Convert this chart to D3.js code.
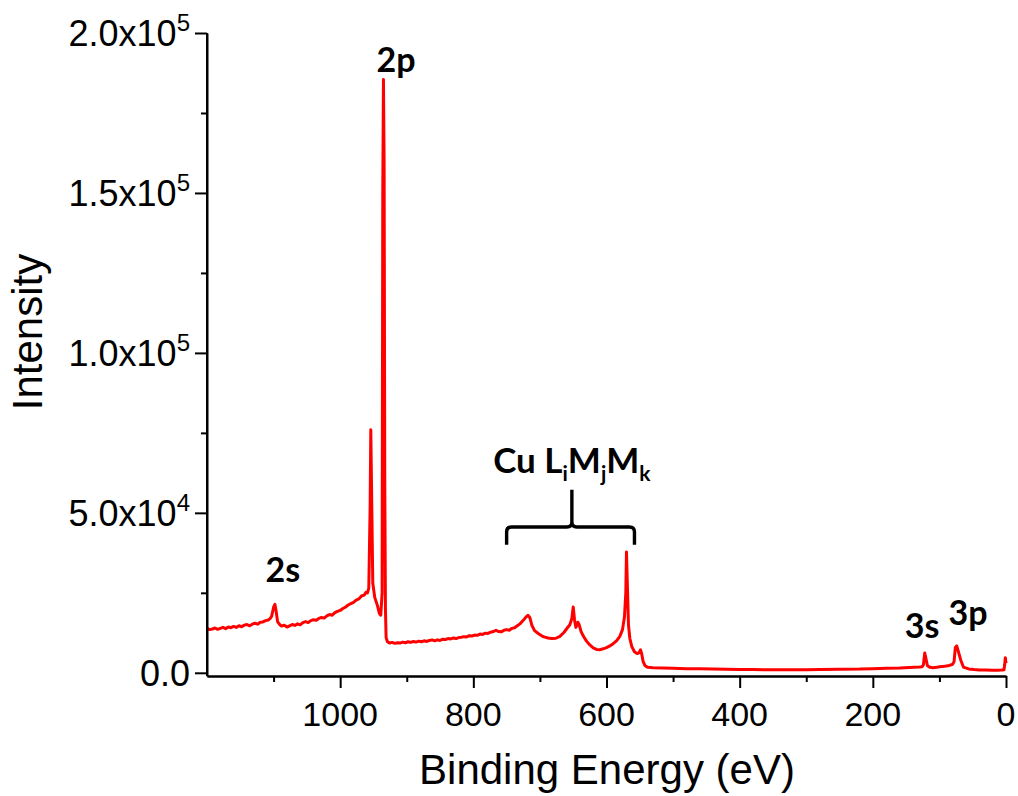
<!DOCTYPE html>
<html><head><meta charset="utf-8">
<script src="https://cdn.jsdelivr.net/npm/d3@7"></script>
<style>
body{margin:0;background:#fff;}
svg{display:block;}
</style></head>
<body>
<svg id="chart" width="1018" height="796"></svg>
<script>
// Binding energy (eV) and intensity (counts)
const energy = [1200,1196,1192,1188,1184,1180,1176,1172,1168,1164,1160,1156,1152,1148,1144,1140,1136,1132,1128,1124,1120,1116,1112,1108,1105,1103,1100,1098,1096,1094,1091,1088,1084,1080,1076,1072,1068,1064,1060,1056,1052,1048,1044,1040,1036,1032,1028,1024,1020,1016,1012,1008,1004,1000,996,992,988,984,980,976,972,968,964,961,959,957,955,954,953,951,948,944,941,939,937,936,935,934,933,932,931,929,926,922,918,914,910,906,902,898,894,890,886,882,878,874,870,866,862,858,854,850,846,842,838,834,830,826,822,818,814,810,806,802,798,794,790,786,782,778,774,770,766,762,758,754,750,746,742,738,734,730,725,721,718,715,712,708,702,695,688,682,676,670,664,659,655,652,650,648,646,643,641,638,634,630,625,620,615,610,605,600,595,590,585,580,576,573,571,570,569,567,565,562,558,554,551,549,547,545,542,538,530,515,500,480,460,440,420,400,380,350,320,300,280,250,220,200,180,160,145,130,126,124,123,122,120,118,114,110,104,100,95,90,85,82,80,78,77,76,74,72,68,64,56,48,40,30,20,12,7,5,3,2,1,0];
const intensity = [13900,13500,13700,14000,13600,13900,14200,13800,14300,14100,14500,14200,14700,14400,14900,15100,14700,15200,15500,15200,15800,15900,16300,16500,17000,17600,20500,21400,19000,16000,15100,14600,14900,14300,14700,15100,14800,15300,15000,15700,16000,15700,16300,16600,16400,17000,17300,17100,17800,18200,18000,18800,19200,19500,20100,20500,21200,21600,22000,22700,23100,24000,24300,25200,25000,26500,52000,76000,60000,28000,23500,21000,18500,18000,25000,150000,185500,160000,60000,20000,11000,9700,9300,9500,9200,9400,9300,9600,9400,9700,9500,9800,9600,9900,9700,10000,9800,10100,10300,10000,10300,10100,10500,10400,10700,10600,10900,10700,11000,11100,11300,11200,11600,11500,11800,11700,12100,12000,12400,12300,12700,12900,13300,12900,12800,13300,13500,13300,13900,14100,14700,15300,16400,17400,18000,17200,14800,13200,12200,11300,10900,10700,10800,11400,12600,14000,15000,17000,20600,16500,14200,15800,15000,12800,11200,9900,8700,7800,7300,7200,7500,7900,8400,9100,10000,11400,13500,17500,25000,37800,30000,15000,10800,8200,6600,6000,6300,7200,5800,3500,2200,1700,1600,1500,1400,1300,1250,1200,1100,1000,1000,950,950,980,1000,1100,1150,1300,1400,1500,1650,1800,1900,2500,4500,6200,4200,2200,1700,1600,1700,1900,2000,2100,2300,2500,2700,3500,5800,8000,8400,7000,4000,1800,1200,1000,900,850,800,800,850,900,950,2500,4700,3000,1500,900];

const yMajor = [0, 50000, 100000, 150000, 200000];
const yMinor = [25000, 75000, 125000, 175000];
const yTickLabels = [["0.0",""],["5.0x10","4"],["1.0x10","5"],["1.5x10","5"],["2.0x10","5"]];
const xMajor = [1000, 800, 600, 400, 200, 0];
const xMinor = [1100, 900, 700, 500, 300, 100];
const xTickLabels = ["1000","800","600","400","200","0"];

const peakLabels = [
  {text:"2p", be:916, y:187800},
  {text:"2s", be:1086, y:28400},
  {text:"3s", be:126, y:10900},
  {text:"3p", be:57, y:15000}
];
const bracketBE = {left:750, mid:652, right:558};
const bracketI = {line:45600, foot:40000, tip:57200, text:62500};

const svg = d3.select("#chart");
const x = d3.scaleLinear().domain([1200, 0]).range([207, 1006]);
const y = d3.scaleLinear().domain([-1000, 200000]).range([676, 33]);

// spectrum
const line = d3.line().x((d,i)=>x(energy[i])).y((d,i)=>y(intensity[i]));
svg.append("path").datum(energy)
  .attr("d", line)
  .attr("fill","none").attr("stroke","#ff0000").attr("stroke-width",3)
  .attr("stroke-linejoin","round");

// axes
const axStyle = g => { g.selectAll("path,line").attr("stroke","#000").attr("stroke-width",2); g.selectAll("text").remove(); };
svg.append("g").attr("transform","translate(207,0)")
  .call(d3.axisLeft(y).tickValues(yMinor).tickSize(6).tickSizeOuter(0).tickFormat(""))
  .call(axStyle);
svg.append("g").attr("transform","translate(207,0)")
  .call(d3.axisLeft(y).tickValues(yMajor).tickSize(12).tickSizeOuter(0).tickFormat(""))
  .call(axStyle).select(".domain").attr("d", `M0,${y(200000)}V676`);
svg.append("g").attr("transform","translate(0,676)")
  .call(d3.axisBottom(x).tickValues(xMinor).tickSize(6).tickSizeOuter(0).tickFormat(""))
  .call(axStyle);
svg.append("g").attr("transform","translate(0,676)")
  .call(d3.axisBottom(x).tickValues(xMajor).tickSize(12).tickSizeOuter(0).tickFormat(""))
  .call(axStyle);

// y tick labels
const yl = svg.append("g").attr("font-family","Liberation Sans, Arial, sans-serif").attr("fill","#000");
yMajor.forEach((v,i)=>{
  const t = yl.append("text").attr("x",190).attr("y",y(v)+13).attr("text-anchor","end").attr("font-size",36);
  t.append("tspan").text(yTickLabels[i][0]);
  if (yTickLabels[i][1]) t.append("tspan").attr("font-size",24).attr("dy",-15).text(yTickLabels[i][1]);
});
// x tick labels
xMajor.forEach((v,i)=>{
  yl.append("text").attr("x",x(v)).attr("y",726).attr("text-anchor","middle").attr("font-size",34).text(xTickLabels[i]);
});
// axis titles
yl.append("text").attr("transform","translate(42,332) rotate(-90)").attr("text-anchor","middle").attr("font-size",42).text("Intensity");
yl.append("text").attr("x",607).attr("y",784).attr("text-anchor","middle").attr("font-size",42).text("Binding Energy (eV)");

// peak labels
const ann = svg.append("g").attr("font-family","Lato, Open Sans, sans-serif").attr("font-weight",700).attr("fill","#000");
peakLabels.forEach(p=>{
  ann.append("text").attr("x",x(p.be)).attr("y",y(p.y)).attr("text-anchor","middle").attr("font-size",34).text(p.text);
});
const cu = ann.append("text").attr("x",x(bracketBE.mid)).attr("y",y(bracketI.text)).attr("text-anchor","middle").attr("font-size",35);
cu.append("tspan").text("Cu L");
cu.append("tspan").attr("font-size",21).attr("dy",8).text("i");
cu.append("tspan").attr("dy",-8).text("M");
cu.append("tspan").attr("font-size",21).attr("dy",8).text("j");
cu.append("tspan").attr("dy",-8).text("M");
cu.append("tspan").attr("font-size",21).attr("dy",8).text("k");

// curly bracket
const xl = x(bracketBE.left), xm = x(bracketBE.mid), xr = x(bracketBE.right);
const yline = y(bracketI.line), yfoot = y(bracketI.foot), ytip = y(bracketI.tip);
const r = 5;
const bp = d3.path();
bp.moveTo(xl, yfoot);
bp.lineTo(xl, yline + r);
bp.quadraticCurveTo(xl, yline, xl + r, yline);
bp.lineTo(xm - r, yline);
bp.quadraticCurveTo(xm, yline, xm, yline - r);
bp.lineTo(xm, ytip);
bp.moveTo(xm, yline - r);
bp.quadraticCurveTo(xm, yline, xm + r, yline);
bp.lineTo(xr - r, yline);
bp.quadraticCurveTo(xr, yline, xr, yline + r);
bp.lineTo(xr, yfoot);
svg.append("path").attr("d", bp.toString()).attr("fill","none").attr("stroke","#000").attr("stroke-width",3.4);
</script>
</body></html>
